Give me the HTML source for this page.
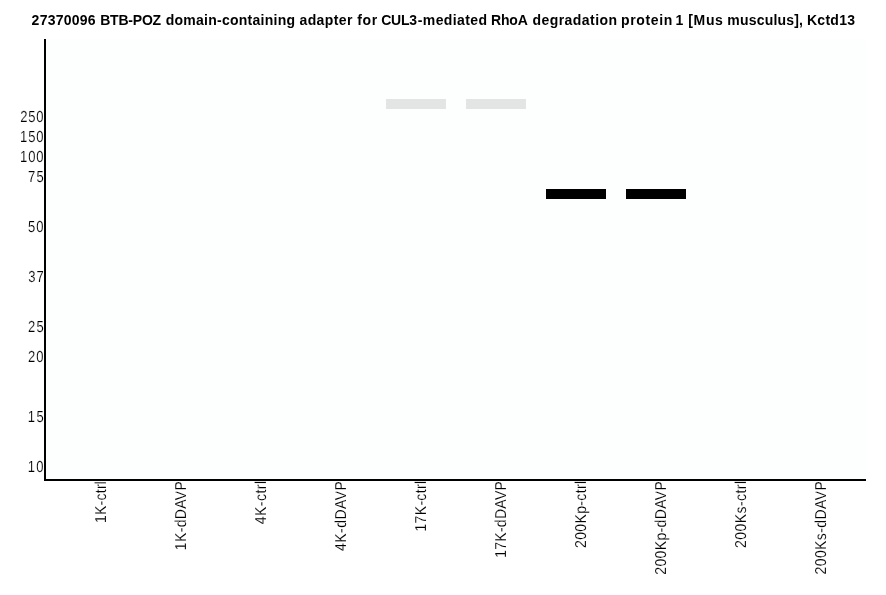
<!DOCTYPE html>
<html>
<head>
<meta charset="utf-8">
<title>27370096 Kctd13</title>
<style>
html,body{margin:0;padding:0;background:#fff;}
body{width:886px;height:595px;overflow:hidden;}
svg{display:block;position:absolute;left:0;top:0;}
text{font-family:"Liberation Sans",Arial,Helvetica,sans-serif;font-size:14px;fill:#000;white-space:pre;}
.t{font-weight:bold;}
.y,.x{text-anchor:end;text-rendering:geometricPrecision;stroke:#fff;stroke-width:0.12px;}
.y{font-size:13px;}
.x{font-size:14px;}
</style>
</head>
<body>
<svg width="886" height="595" viewBox="0 0 886 595">
<rect x="0" y="0" width="886" height="595" fill="#ffffff"/>
<rect x="46" y="39" width="820" height="440" fill="#fdfefe"/>
<rect x="44" y="39" width="2" height="442" fill="#000"/>
<rect x="44" y="479" width="822" height="2" fill="#000"/>
<rect x="386" y="99" width="60" height="10" fill="#e3e4e4"/>
<rect x="466" y="99" width="60" height="10" fill="#e3e4e4"/>
<rect x="546" y="189" width="60" height="10" fill="#000"/>
<rect x="626" y="189" width="60" height="10" fill="#000"/>
<text class="t" y="25"><tspan x="31.60" style="letter-spacing:0.250px">27370096 </tspan><tspan x="100.20" style="letter-spacing:-0.208px">BTB-POZ </tspan><tspan x="165.68" style="letter-spacing:0.261px">domain-containing </tspan><tspan x="299.43" style="letter-spacing:0.417px">adapter </tspan><tspan x="357.15" style="letter-spacing:0.725px">for </tspan><tspan x="381.18" style="letter-spacing:-0.192px">CUL3</tspan><tspan x="417.80" style="letter-spacing:0.384px">-mediated </tspan><tspan x="490.90" style="letter-spacing:-0.125px">RhoA </tspan><tspan x="532.48" style="letter-spacing:0.447px">degradation </tspan><tspan x="621.02" style="letter-spacing:0.629px">protein </tspan><tspan x="675.62" style="letter-spacing:0.000px">1 </tspan><tspan x="688.35" style="letter-spacing:0.608px">[Mus </tspan><tspan x="727.33" style="letter-spacing:0.186px">musculus], </tspan><tspan x="807.00" style="letter-spacing:0.255px">Kctd13</tspan></text>
<text class="y" style="letter-spacing:0.850px" transform="translate(44.45,122) scale(1,1.231)">250</text>
<text class="y" style="letter-spacing:0.925px" transform="translate(44.53,142) scale(1,1.231)">150</text>
<text class="y" style="letter-spacing:0.925px" transform="translate(44.53,162) scale(1,1.231)">100</text>
<text class="y" style="letter-spacing:1.275px" transform="translate(45.00,182) scale(1,1.231)">75</text>
<text class="y" style="letter-spacing:1.225px" transform="translate(44.83,232) scale(1,1.231)">50</text>
<text class="y" style="letter-spacing:1.025px" transform="translate(44.75,282) scale(1,1.231)">37</text>
<text class="y" style="letter-spacing:1.150px" transform="translate(44.88,332) scale(1,1.231)">25</text>
<text class="y" style="letter-spacing:1.125px" transform="translate(44.73,362) scale(1,1.231)">20</text>
<text class="y" style="letter-spacing:1.425px" transform="translate(45.15,422) scale(1,1.231)">15</text>
<text class="y" style="letter-spacing:1.300px" transform="translate(44.90,472) scale(1,1.231)">10</text>
<text class="x" style="letter-spacing:0.271px" transform="translate(106,480.73) rotate(-90) scale(1,1.131)">1K-ctrl</text>
<text class="x" style="letter-spacing:0.339px" transform="translate(186,480.79) rotate(-90) scale(1,1.131)">1K-dDAVP</text>
<text class="x" style="letter-spacing:0.458px" transform="translate(266,480.54) rotate(-90) scale(1,1.131)">4K-ctrl</text>
<text class="x" style="letter-spacing:0.446px" transform="translate(346,480.68) rotate(-90) scale(1,1.131)">4K-dDAVP</text>
<text class="x" style="letter-spacing:0.321px" transform="translate(426,480.68) rotate(-90) scale(1,1.131)">17K-ctrl</text>
<text class="x" style="letter-spacing:0.281px" transform="translate(506,480.84) rotate(-90) scale(1,1.131)">17K-dDAVP</text>
<text class="x" style="letter-spacing:0.347px" transform="translate(586,480.65) rotate(-90) scale(1,1.131)">200Kp-ctrl</text>
<text class="x" style="letter-spacing:0.362px" transform="translate(666,480.76) rotate(-90) scale(1,1.131)">200Kp-dDAVP</text>
<text class="x" style="letter-spacing:0.431px" transform="translate(746,480.57) rotate(-90) scale(1,1.131)">200Ks-ctrl</text>
<text class="x" style="letter-spacing:0.412px" transform="translate(826,480.71) rotate(-90) scale(1,1.131)">200Ks-dDAVP</text>
</svg>
</body>
</html>
